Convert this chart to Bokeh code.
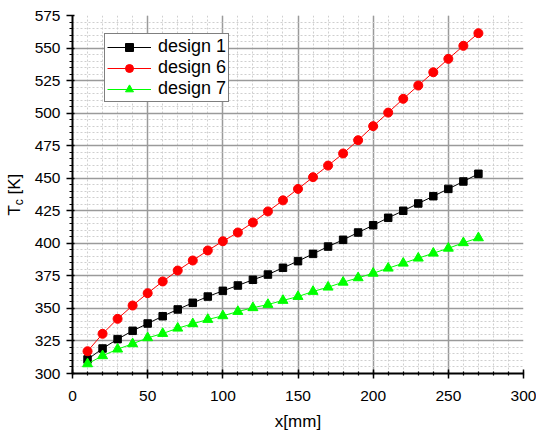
from bokeh.plotting import figure
from bokeh.layouts import row, column
from bokeh.models import Range1d, SingleIntervalTicker, Legend, LegendItem, Label
from bokeh.embed import file_html
from bokeh.resources import INLINE

x_mm = [10, 20, 30, 40, 50, 60, 70, 80, 90, 100, 110, 120, 130, 140, 150, 160, 170, 180, 190, 200,
        210, 220, 230, 240, 250, 260, 270]
design1 = [310.8, 319.2, 326.4, 332.8, 338.4, 344.0, 349.2, 354.3, 359.1, 363.5, 367.6, 372.0, 376.0,
           381.2, 386.3, 391.9, 397.5, 402.7, 408.3, 413.9, 419.6, 425.0, 430.6, 436.2, 441.8, 447.5, 453.4]
design6 = [317.1, 330.5, 342.0, 352.2, 361.7, 370.7, 379.1, 386.8, 394.5, 401.6, 408.3, 416.0, 424.5,
           433.0, 441.8, 450.8, 459.7, 469.0, 479.2, 490.0, 500.4, 511.0, 521.2, 531.4, 541.7, 551.7, 561.4]
design7 = [307.4, 313.6, 318.7, 322.8, 327.4, 330.7, 334.8, 338.2, 341.5, 344.3, 347.6, 350.5, 353.0,
           356.1, 359.1, 363.0, 366.3, 370.1, 373.5, 377.0, 380.9, 384.7, 388.6, 392.4, 396.2, 400.4, 404.2]
series_names = ["design 1", "design 6", "design 7"]
x_title = "x[mm]"

FONT = "Liberation Sans"
LEFT_W = 30
TOP_H = 412
BOT_H = 430 - TOP_H

p = figure(width=536 - LEFT_W, height=TOP_H, output_backend="svg", toolbar_location=None,
           x_range=Range1d(0, 300), y_range=Range1d(300, 575),
           min_border_left=72 - LEFT_W, min_border_right=13, min_border_top=15,
           min_border_bottom=TOP_H - 373)
p.outline_line_color = None
p.background_fill_color = "white"

p.xaxis.ticker = SingleIntervalTicker(interval=50, num_minor_ticks=5)
p.yaxis.ticker = SingleIntervalTicker(interval=25, num_minor_ticks=5)

for ax in (p.xaxis[0], p.yaxis[0]):
    ax.axis_line_width = 2
    ax.axis_line_color = "black"
    ax.major_tick_line_width = 1.5
    ax.minor_tick_line_width = 1.2
    ax.major_tick_line_color = "black"
    ax.minor_tick_line_color = "black"
    ax.major_label_text_font = FONT
    ax.major_label_text_font_size = "15.5px"
    ax.major_label_text_color = "black"

p.xaxis.major_label_standoff = 12
p.yaxis.major_label_standoff = 6
p.xaxis.major_tick_in = 4
p.xaxis.major_tick_out = 5
p.xaxis.minor_tick_in = 2
p.xaxis.minor_tick_out = 2
p.yaxis.major_tick_in = 2
p.yaxis.major_tick_out = 6
p.yaxis.minor_tick_in = 0
p.yaxis.minor_tick_out = 3

for g in (p.xgrid[0], p.ygrid[0]):
    g.grid_line_color = "#9a9a9a"
    g.grid_line_width = 1.5
    g.minor_grid_line_color = "#cfcfcf"
    g.minor_grid_line_dash = "2 2"
    g.minor_grid_line_width = 1

colors = ["black", "#ff0000", "#00ff00"]
markers = ["square", "circle", "triangle"]
sizes = [7.5, 9, 10]
items = []
for name, ys, c, m, s in zip(series_names, [design1, design6, design7], colors, markers, sizes):
    l = p.line(x_mm, ys, line_color=c, line_width=1)
    r = p.scatter(x_mm, ys, marker=m, size=s, fill_color=c, line_color=c)
    items.append(LegendItem(label=name, renderers=[l, r]))

legend = Legend(items=items, location=(32, 271), glyph_width=44, glyph_height=20,
                label_height=20, spacing=0, padding=2, margin=0, label_standoff=7,
                label_text_font=FONT, label_text_font_size="18px", label_text_color="black",
                border_line_color="black", border_line_width=1, background_fill_alpha=1)
p.add_layout(legend, "center")

# y-axis title with subscript, in a narrow side figure sharing the y range
yl = figure(width=LEFT_W, height=TOP_H, output_backend="svg", toolbar_location=None,
            x_range=Range1d(0, LEFT_W), y_range=p.y_range,
            x_axis_location=None, y_axis_location=None,
            min_border_left=0, min_border_right=0, min_border_top=15,
            min_border_bottom=TOP_H - 373)
yl.outline_line_color = None
yl.xgrid.visible = False
yl.ygrid.visible = False
yl.add_layout(Label(x=14, y=421.3, text="T", angle=1.5707963, text_align="left",
                    text_baseline="alphabetic", text_font=FONT, text_font_size="17px", text_color="black"))
yl.add_layout(Label(x=18, y=429.3, text="c", angle=1.5707963, text_align="left",
                    text_baseline="alphabetic", text_font=FONT, text_font_size="12px", text_color="black"))
yl.add_layout(Label(x=14, y=437.5, text="[K]", angle=1.5707963, text_align="left",
                    text_baseline="alphabetic", text_font=FONT, text_font_size="17px", text_color="black"))

# x-axis title strip below
xl = figure(width=536, height=BOT_H, output_backend="svg", toolbar_location=None,
            x_range=Range1d(-72 * 300 / 451, 300 + 13 * 300 / 451), y_range=Range1d(0, BOT_H),
            x_axis_location=None, y_axis_location=None,
            min_border_left=0, min_border_right=0, min_border_top=0, min_border_bottom=0)
xl.outline_line_color = None
xl.xgrid.visible = False
xl.ygrid.visible = False
xl.add_layout(Label(x=150, y=BOT_H / 2, text=x_title, text_align="center", text_baseline="middle",
                    text_font=FONT, text_font_size="17px", text_color="black"))

layout = column(row(yl, p, spacing=0), xl, spacing=0)
open("out.html", "w").write(file_html(layout, INLINE))
